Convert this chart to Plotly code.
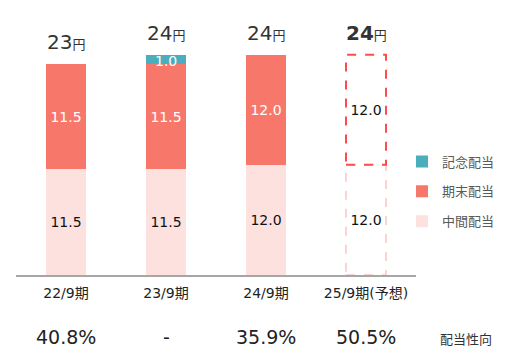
import plotly.graph_objects as go

categories = ["22/9期", "23/9期", "24/9期", "25/9期(予想)"]
interim = [11.5, 11.5, 12.0, 12.0]        # 中間配当
year_end = [11.5, 11.5, 12.0, 12.0]       # 期末配当
commemorative = [0, 1.0, 0, 0]            # 記念配当
totals = ["23", "24", "24", "24"]
payout = ["40.8%", "-", "35.9%", "50.5%"]
forecast = [False, False, False, True]

C_TEAL = "#4BAEBD"
C_RED = "#F8776B"
C_PINK = "#FDE1DE"
C_DASH_RED = "#FF4B4B"
C_DASH_PINK = "#F7C6C2"
FONT = "DejaVu Sans, Noto Sans CJK JP, sans-serif"
BW = 0.4

fig = go.Figure()
fig.add_bar(
    name="中間配当", x=categories, y=interim, width=BW,
    marker=dict(color=[("rgba(0,0,0,0)" if f else C_PINK) for f in forecast], line_width=0),
    text=[f"{v:.1f}" for v in interim], textposition="inside", insidetextanchor="middle",
    textfont=dict(size=14, color="#111111"), constraintext="none",
    legendgroup="g3", legendrank=3,
)
fig.add_bar(
    name="期末配当", x=categories, y=year_end, width=BW,
    marker=dict(color=[("rgba(0,0,0,0)" if f else C_RED) for f in forecast], line_width=0),
    text=[f"{v:.1f}" for v in year_end], textposition="inside", insidetextanchor="middle",
    textfont=dict(size=14, color=[("#111111" if f else "white") for f in forecast]),
    constraintext="none", legendgroup="g2", legendrank=2,
)
fig.add_bar(
    name="記念配当", x=categories, y=commemorative, width=BW,
    marker=dict(color=C_TEAL, line_width=0), legendgroup="g1", legendrank=1,
)

# label of the thin commemorative segment (text overflows the segment)
for i, v in enumerate(commemorative):
    if v:
        fig.add_annotation(x=i, y=interim[i] + year_end[i] + v / 2, text=f"{v:.1f}",
                           showarrow=False, yshift=-2, font=dict(size=14, color="white"))

# dashed outlines for forecast bar
for i, f in enumerate(forecast):
    if not f:
        continue
    fig.add_shape(type="rect", xref="x", yref="y", x0=i - BW / 2, x1=i + BW / 2,
                  y0=0, y1=interim[i], line=dict(color=C_DASH_PINK, width=1.5, dash="dash"))
    fig.add_shape(type="rect", xref="x", yref="y", x0=i - BW / 2, x1=i + BW / 2,
                  y0=interim[i], y1=interim[i] + year_end[i],
                  line=dict(color=C_DASH_RED, width=2, dash="dash"))

# totals above bars
for i, t in enumerate(totals):
    top = interim[i] + year_end[i] + commemorative[i]
    num = f"<b>{t}</b>" if forecast[i] else t
    txt = f"{num}<span style='font-size:13px'>円</span>"
    fig.add_annotation(x=i, y=top, text=txt, showarrow=False, yanchor="bottom", yshift=8,
                       font=dict(size=20, color="#333333"))

# payout ratio row
for i, p in enumerate(payout):
    fig.add_annotation(x=i, xref="x", y=-0.24, yref="paper", yanchor="middle",
                       text=p, showarrow=False, font=dict(size=19, color="#222222"))
fig.add_annotation(x=1.125, xref="paper", xanchor="center", y=-0.25, yref="paper",
                   yanchor="middle", text="配当性向", showarrow=False,
                   font=dict(size=13, color="#333333"))

# page body has an 8px margin: figure is 8px smaller, margins reduced accordingly
fig.update_layout(
    width=506, height=352,
    margin=dict(l=8, r=98, t=10, b=85, autoexpand=False),
    barmode="stack",
    plot_bgcolor="white", paper_bgcolor="white",
    font=dict(family=FONT, color="#333333"),
    showlegend=True,
    legend=dict(traceorder="grouped", x=0.965, xanchor="left", y=0.50, yanchor="top",
                font=dict(size=13, color="#595959"), itemwidth=30, tracegroupgap=10,
                bgcolor="rgba(0,0,0,0)"),
    hovermode=False,
)
fig.update_xaxes(range=[-0.5, 3.5], showline=True, linecolor="#A6A6A6", linewidth=1.5,
                 ticks="", tickfont=dict(size=14, color="#222222"), ticklabelstandoff=4,
                 showgrid=False, zeroline=False, automargin=False)
fig.update_yaxes(range=[0, 28], visible=False, showgrid=False, zeroline=False)

fig.write_html("out.html")
